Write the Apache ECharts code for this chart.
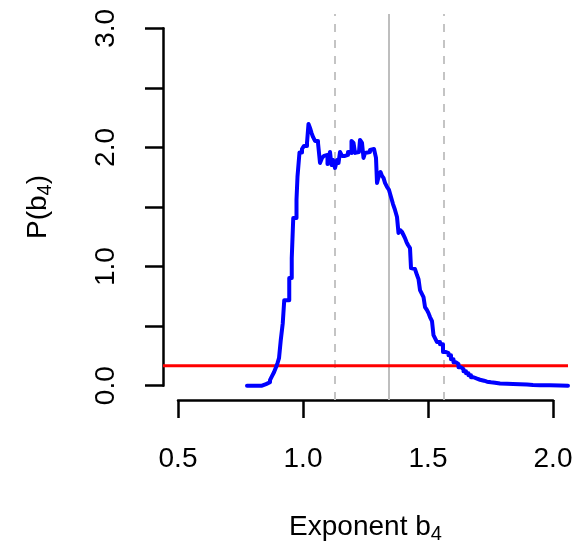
<!DOCTYPE html>
<html>
<head>
<meta charset="utf-8">
<script src="https://cdn.jsdelivr.net/npm/echarts@6/dist/echarts.min.js"></script>
<style>
  html, body { margin: 0; padding: 0; background: #ffffff; }
  #chart { width: 576px; height: 544px; }
</style>
</head>
<body>
<div id="chart"></div>
<script>
// Posterior density of exponent b4 (step curve)
const expX = [0.776, 0.836, 0.852, 0.868, 0.876, 0.884, 0.892, 0.898, 0.904, 0.911,
  0.919, 0.925, 0.945, 0.955, 0.961, 0.974, 0.978, 0.986,
  0.996, 1.004, 1.016, 1.022, 1.028, 1.034, 1.040, 1.048,
  1.060, 1.068, 1.076, 1.084, 1.092, 1.098, 1.104, 1.108, 1.114, 1.120,
  1.128, 1.136, 1.142, 1.148, 1.156, 1.168, 1.180, 1.188, 1.194, 1.202,
  1.208, 1.216, 1.224, 1.228, 1.236, 1.242, 1.248, 1.256, 1.268, 1.276,
  1.284, 1.292, 1.296, 1.304, 1.310, 1.316, 1.322, 1.328, 1.336, 1.344,
  1.352, 1.360, 1.368, 1.376, 1.382, 1.388, 1.396, 1.402, 1.408, 1.414,
  1.420, 1.428, 1.432, 1.440, 1.448, 1.456, 1.462, 1.468, 1.476, 1.482,
  1.488, 1.496, 1.502, 1.508, 1.516, 1.522, 1.528, 1.536, 1.548, 1.560,
  1.572, 1.582, 1.592, 1.602, 1.612, 1.622, 1.632, 1.642, 1.652, 1.662,
  1.672, 1.682, 1.696, 1.708, 1.724, 1.736, 1.752, 1.768, 1.788, 1.816,
  1.840, 1.868, 1.896, 1.920, 1.948, 1.988, 2.028, 2.060];
const density = [0.000, 0.013, 0.029, 0.046, 0.080, 0.113, 0.155, 0.189, 0.231, 0.382,
  0.525, 0.718, 0.903, 1.071, 1.408, 1.563, 1.756, 1.958,
  1.987, 2.013, 2.038, 2.197, 2.164, 2.122, 2.088, 2.055,
  2.038, 1.870, 1.912, 1.929, 1.937, 1.861, 1.920, 1.962, 1.853, 1.895,
  1.828, 1.895, 1.870, 1.962, 1.929, 1.937, 1.962, 1.954, 2.055, 2.038,
  1.954, 1.962, 1.971, 2.063, 2.038, 1.912, 1.954, 1.962, 1.979, 1.987,
  1.996, 1.912, 1.702, 1.769, 1.794, 1.761, 1.744, 1.702, 1.668, 1.643,
  1.584, 1.525, 1.475, 1.416, 1.282, 1.307, 1.290, 1.265, 1.239, 1.206,
  1.181, 1.155, 0.987, 0.979, 0.971, 0.929, 0.895, 0.803, 0.769, 0.744,
  0.660, 0.634, 0.609, 0.576, 0.542, 0.424, 0.399, 0.366, 0.349, 0.282,
  0.273, 0.256, 0.223, 0.197, 0.181, 0.155, 0.139, 0.122, 0.105, 0.088,
  0.071, 0.059, 0.050, 0.042, 0.034, 0.029, 0.025, 0.018, 0.017, 0.015,
  0.013, 0.010, 0.006, 0.004, 0.003, 0.001, 0.000, 0.000];

// Reference values
const priorDensity = 0.167;        // flat prior level
const medianB4 = 1.344;            // central estimate
const intervalB4 = [1.128, 1.564]; // credible interval bounds

// Axis ranges and ticks
const xRange = [0.5, 2.0];
const yRange = [0, 3];
const xTickStep = 0.5;
const yTickStep = 0.5;

// Plot-region extent (ranges widened by 4% on each side, base-graphics style)
const xPad = (xRange[1] - xRange[0]) * 0.04;
const yPad = (yRange[1] - yRange[0]) * 0.04;
const xLo = xRange[0] - xPad, xHi = xRange[1] + xPad;
const yLo = yRange[0] - yPad, yHi = yRange[1] + yPad;

const FONT = '"Liberation Sans", Arial, Helvetica, sans-serif';

const curve = expX.map((x, i) => [x, density[i]]);

const chart = echarts.init(document.getElementById('chart'), null, { renderer: 'canvas' });

const axisLineStyle = { color: '#000000', width: 2.5 };
const richLabel = {
  m: { fontSize: 28, fontFamily: FONT, color: '#000000', lineHeight: 34 },
  s: { fontSize: 20, fontFamily: FONT, color: '#000000', lineHeight: 20, verticalAlign: 'bottom' }
};

// Plot region geometry: grid 0 holds the data, grid 1 carries the visible axes
const plotBox = { left: 163, right: 8, top: 14, bottom: 144 };
const pxPerX = (576 - plotBox.left - plotBox.right) / (xHi - xLo);
const pxPerY = (544 - plotBox.top - plotBox.bottom) / (yHi - yLo);
const axisBox = {
  left: plotBox.left + xPad * pxPerX,
  right: plotBox.right + xPad * pxPerX,
  top: plotBox.top + yPad * pxPerY,
  bottom: plotBox.bottom + yPad * pxPerY
};

chart.setOption({
  animation: false,
  backgroundColor: '#ffffff',
  grid: [
    Object.assign({ containLabel: false, outerBoundsMode: 'none' }, plotBox),
    Object.assign({ containLabel: false, outerBoundsMode: 'none' }, axisBox)
  ],
  xAxis: [
    {
      gridIndex: 0, type: 'value', min: xLo, max: xHi, show: false,
      splitLine: { show: false }
    },
    {
      gridIndex: 1, type: 'value',
      min: xRange[0], max: xRange[1], interval: xTickStep,
      offset: yPad * pxPerY,
      axisLine: { show: true, onZero: false, lineStyle: axisLineStyle },
      axisTick: { show: true, length: 18, lineStyle: axisLineStyle },
      splitLine: { show: false },
      axisLabel: {
        color: '#000000', fontSize: 28, fontFamily: FONT, margin: 45,
        formatter: v => v.toFixed(1)
      },
      name: '{m|Exponent b}{s|4}',
      nameLocation: 'middle',
      nameGap: 110,
      nameTextStyle: { rich: richLabel }
    }
  ],
  yAxis: [
    {
      gridIndex: 0, type: 'value', min: yLo, max: yHi, show: false,
      splitLine: { show: false }
    },
    {
      gridIndex: 1, type: 'value',
      min: yRange[0], max: yRange[1], interval: yTickStep,
      offset: xPad * pxPerX,
      axisLine: { show: true, onZero: false, lineStyle: axisLineStyle },
      axisTick: { show: true, length: 18, lineStyle: axisLineStyle },
      splitLine: { show: false },
      axisLabel: {
        color: '#000000', fontSize: 28, fontFamily: FONT, margin: 43, rotate: 90,
        formatter: v => (Math.abs(v - Math.round(v)) < 1e-9 ? v.toFixed(1) : '')
      },
      name: '{m|P(b}{s|4}{m|)}',
      nameLocation: 'middle',
      nameRotate: 90,
      nameGap: 108,
      nameTextStyle: { rich: richLabel }
    }
  ],
  series: [
    {
      name: 'interval-low', type: 'line', xAxisIndex: 0, yAxisIndex: 0,
      silent: true, symbol: 'none',
      data: [[intervalB4[0], yLo], [intervalB4[0], yHi]],
      lineStyle: { color: '#c4c4c4', width: 2, type: [8, 8] }, z: 1
    },
    {
      name: 'interval-high', type: 'line', xAxisIndex: 0, yAxisIndex: 0,
      silent: true, symbol: 'none',
      data: [[intervalB4[1], yLo], [intervalB4[1], yHi]],
      lineStyle: { color: '#c4c4c4', width: 2, type: [8, 8] }, z: 1
    },
    {
      name: 'median', type: 'line', xAxisIndex: 0, yAxisIndex: 0,
      silent: true, symbol: 'none',
      data: [[medianB4, yLo], [medianB4, yHi]],
      lineStyle: { color: '#bebebe', width: 2 }, z: 2
    },
    {
      name: 'prior', type: 'line', xAxisIndex: 0, yAxisIndex: 0,
      silent: true, symbol: 'none',
      data: [[xLo, priorDensity], [xHi, priorDensity]],
      lineStyle: { color: '#ff0000', width: 3 }, z: 3
    },
    {
      name: 'posterior', type: 'line', xAxisIndex: 0, yAxisIndex: 0,
      silent: true, symbol: 'none', step: 'end',
      data: curve,
      lineStyle: { color: '#0000ff', width: 4, join: 'round', cap: 'round' }, z: 4
    }
  ]
});
</script>
</body>
</html>
